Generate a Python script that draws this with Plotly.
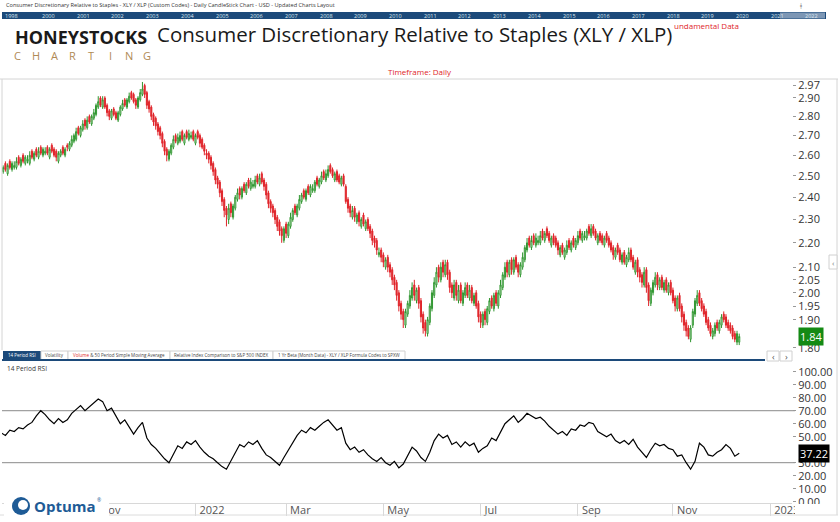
import numpy as np
import pandas as pd
import plotly.graph_objects as go
from plotly.subplots import make_subplots

## Daily XLY / XLP ratio bars (one per trading day from 1 Sep 2021)

bar_open = [
    2.51, 2.52, 2.56, 2.51, 2.57, 2.53, 2.54, 2.54, 2.59, 2.55,
    2.60, 2.56, 2.57, 2.56, 2.62, 2.58, 2.63, 2.59, 2.64, 2.60,
    2.61, 2.64, 2.59, 2.65, 2.63, 2.62, 2.57, 2.60, 2.64, 2.60,
    2.65, 2.63, 2.65, 2.67, 2.68, 2.74, 2.70, 2.73, 2.78, 2.74,
    2.80, 2.76, 2.79, 2.81, 2.85, 2.90, 2.85, 2.90, 2.86, 2.83,
    2.79, 2.84, 2.82, 2.78, 2.81, 2.84, 2.89, 2.85, 2.88, 2.93,
    2.92, 2.89, 2.85, 2.89, 2.92, 2.97, 2.93, 2.88, 2.85, 2.81,
    2.79, 2.76, 2.74, 2.71, 2.67, 2.63, 2.58, 2.61, 2.64, 2.70,
    2.66, 2.67, 2.72, 2.66, 2.72, 2.68, 2.69, 2.72, 2.66, 2.72,
    2.70, 2.68, 2.65, 2.61, 2.61, 2.59, 2.56, 2.53, 2.49, 2.47,
    2.43, 2.39, 2.35, 2.30, 2.37, 2.31, 2.35, 2.39, 2.44, 2.40,
    2.46, 2.42, 2.48, 2.44, 2.45, 2.45, 2.50, 2.46, 2.51, 2.48,
    2.46, 2.42, 2.38, 2.36, 2.34, 2.31, 2.29, 2.26, 2.21, 2.28,
    2.23, 2.27, 2.30, 2.36, 2.32, 2.35, 2.38, 2.43, 2.39, 2.45,
    2.41, 2.43, 2.43, 2.49, 2.45, 2.47, 2.52, 2.48, 2.50, 2.55,
    2.53, 2.48, 2.52, 2.50, 2.46, 2.50, 2.45, 2.39, 2.36, 2.31,
    2.35, 2.29, 2.33, 2.27, 2.32, 2.26, 2.30, 2.27, 2.25, 2.22,
    2.21, 2.15, 2.17, 2.15, 2.10, 2.14, 2.11, 2.09, 2.06, 2.04,
    2.00, 1.96, 1.93, 1.88, 1.92, 1.95, 1.98, 2.03, 1.97, 2.02,
    1.97, 1.92, 1.89, 1.85, 1.89, 1.94, 1.99, 2.03, 2.10, 2.05,
    2.12, 2.07, 2.12, 2.08, 2.03, 1.98, 2.04, 1.97, 2.03, 1.96,
    1.99, 2.03, 1.98, 2.02, 1.96, 2.00, 1.96, 1.92, 1.88, 1.93,
    1.89, 1.93, 1.98, 1.94, 2.00, 1.95, 1.99, 2.02, 2.06, 2.12,
    2.07, 2.13, 2.08, 2.14, 2.11, 2.07, 2.10, 2.13, 2.17, 2.22,
    2.18, 2.23, 2.19, 2.20, 2.20, 2.25, 2.21, 2.26, 2.24, 2.19,
    2.23, 2.22, 2.20, 2.15, 2.19, 2.14, 2.16, 2.21, 2.17, 2.22,
    2.18, 2.20, 2.25, 2.21, 2.22, 2.22, 2.27, 2.23, 2.27, 2.25,
    2.20, 2.24, 2.23, 2.19, 2.24, 2.22, 2.20, 2.18, 2.14, 2.19,
    2.17, 2.12, 2.16, 2.11, 2.13, 2.17, 2.14, 2.08, 2.13, 2.09,
    2.07, 2.03, 2.09, 2.03, 1.96, 2.00, 2.03, 2.07, 2.02, 2.06,
    2.01, 2.05, 2.00, 2.04, 2.01, 1.98, 1.94, 1.99, 1.95, 1.92,
    1.89, 1.87, 1.83, 1.88, 1.92, 1.96, 2.00, 1.97, 1.95, 1.93,
    1.90, 1.88, 1.84, 1.85, 1.89, 1.86, 1.88, 1.92, 1.91, 1.89,
    1.88, 1.87, 1.85, 1.82, 1.82,
]

bar_high = [
    2.54, 2.55, 2.57, 2.56, 2.58, 2.57, 2.57, 2.59, 2.60, 2.59,
    2.61, 2.60, 2.60, 2.62, 2.63, 2.62, 2.64, 2.64, 2.65, 2.64,
    2.64, 2.65, 2.64, 2.66, 2.64, 2.63, 2.62, 2.63, 2.65, 2.64,
    2.66, 2.67, 2.70, 2.71, 2.74, 2.75, 2.75, 2.78, 2.79, 2.80,
    2.81, 2.81, 2.84, 2.87, 2.91, 2.91, 2.91, 2.91, 2.87, 2.84,
    2.84, 2.85, 2.83, 2.83, 2.86, 2.89, 2.90, 2.90, 2.93, 2.94,
    2.93, 2.90, 2.91, 2.95, 2.99, 2.98, 2.94, 2.89, 2.86, 2.82,
    2.80, 2.77, 2.75, 2.72, 2.68, 2.64, 2.63, 2.66, 2.70, 2.71,
    2.71, 2.72, 2.73, 2.71, 2.73, 2.73, 2.72, 2.73, 2.71, 2.73,
    2.71, 2.69, 2.66, 2.63, 2.62, 2.60, 2.57, 2.54, 2.50, 2.48,
    2.44, 2.40, 2.36, 2.37, 2.38, 2.37, 2.41, 2.44, 2.45, 2.45,
    2.47, 2.47, 2.49, 2.49, 2.48, 2.50, 2.51, 2.51, 2.52, 2.49,
    2.47, 2.43, 2.39, 2.37, 2.35, 2.32, 2.30, 2.27, 2.27, 2.29,
    2.29, 2.33, 2.35, 2.37, 2.37, 2.41, 2.42, 2.44, 2.44, 2.46,
    2.46, 2.46, 2.48, 2.50, 2.49, 2.52, 2.53, 2.53, 2.55, 2.56,
    2.54, 2.52, 2.53, 2.51, 2.50, 2.51, 2.46, 2.40, 2.37, 2.36,
    2.36, 2.33, 2.34, 2.31, 2.33, 2.30, 2.31, 2.28, 2.26, 2.23,
    2.22, 2.18, 2.18, 2.16, 2.14, 2.15, 2.12, 2.10, 2.07, 2.05,
    2.01, 1.97, 1.94, 1.94, 1.97, 2.01, 2.04, 2.05, 2.02, 2.03,
    1.98, 1.93, 1.90, 1.91, 1.96, 2.01, 2.06, 2.10, 2.11, 2.12,
    2.13, 2.13, 2.13, 2.09, 2.04, 2.05, 2.05, 2.03, 2.04, 2.01,
    2.04, 2.04, 2.03, 2.03, 2.00, 2.01, 1.97, 1.93, 1.93, 1.94,
    1.95, 1.98, 1.99, 2.00, 2.01, 2.01, 2.05, 2.08, 2.12, 2.13,
    2.13, 2.14, 2.14, 2.15, 2.12, 2.12, 2.16, 2.19, 2.22, 2.23,
    2.23, 2.24, 2.24, 2.23, 2.25, 2.26, 2.25, 2.27, 2.25, 2.23,
    2.24, 2.23, 2.21, 2.19, 2.20, 2.18, 2.21, 2.22, 2.21, 2.23,
    2.22, 2.25, 2.26, 2.25, 2.25, 2.26, 2.28, 2.28, 2.28, 2.26,
    2.24, 2.25, 2.24, 2.23, 2.25, 2.23, 2.21, 2.19, 2.18, 2.20,
    2.18, 2.16, 2.17, 2.15, 2.18, 2.18, 2.15, 2.13, 2.14, 2.10,
    2.08, 2.10, 2.10, 2.04, 2.02, 2.05, 2.08, 2.08, 2.06, 2.07,
    2.05, 2.06, 2.04, 2.05, 2.02, 1.99, 1.99, 2.00, 1.96, 1.93,
    1.90, 1.88, 1.88, 1.94, 1.98, 2.01, 2.01, 1.98, 1.96, 1.94,
    1.91, 1.89, 1.87, 1.89, 1.90, 1.90, 1.92, 1.93, 1.92, 1.90,
    1.89, 1.88, 1.86, 1.86, 1.85,
]

bar_low = [
    2.50, 2.51, 2.52, 2.50, 2.53, 2.52, 2.53, 2.53, 2.55, 2.54,
    2.56, 2.55, 2.56, 2.55, 2.58, 2.57, 2.59, 2.58, 2.60, 2.59,
    2.60, 2.60, 2.58, 2.61, 2.59, 2.57, 2.56, 2.59, 2.60, 2.59,
    2.62, 2.62, 2.64, 2.66, 2.67, 2.70, 2.69, 2.72, 2.73, 2.73,
    2.76, 2.75, 2.78, 2.80, 2.84, 2.85, 2.84, 2.84, 2.80, 2.78,
    2.78, 2.80, 2.78, 2.77, 2.80, 2.83, 2.85, 2.84, 2.87, 2.89,
    2.87, 2.84, 2.84, 2.88, 2.91, 2.90, 2.84, 2.82, 2.78, 2.75,
    2.73, 2.70, 2.68, 2.64, 2.60, 2.57, 2.57, 2.60, 2.63, 2.66,
    2.65, 2.66, 2.67, 2.65, 2.68, 2.67, 2.68, 2.67, 2.65, 2.68,
    2.64, 2.63, 2.60, 2.58, 2.56, 2.53, 2.50, 2.46, 2.44, 2.40,
    2.36, 2.31, 2.27, 2.28, 2.31, 2.30, 2.34, 2.38, 2.39, 2.39,
    2.42, 2.41, 2.44, 2.43, 2.44, 2.44, 2.46, 2.45, 2.46, 2.43,
    2.39, 2.35, 2.33, 2.31, 2.28, 2.25, 2.23, 2.20, 2.20, 2.22,
    2.22, 2.26, 2.29, 2.32, 2.31, 2.34, 2.37, 2.39, 2.38, 2.41,
    2.40, 2.42, 2.42, 2.45, 2.44, 2.46, 2.48, 2.47, 2.49, 2.51,
    2.49, 2.47, 2.47, 2.46, 2.45, 2.45, 2.37, 2.33, 2.31, 2.30,
    2.29, 2.28, 2.27, 2.26, 2.27, 2.25, 2.25, 2.22, 2.19, 2.18,
    2.15, 2.14, 2.12, 2.10, 2.09, 2.08, 2.06, 2.03, 2.01, 1.97,
    1.93, 1.90, 1.87, 1.87, 1.91, 1.94, 1.97, 1.97, 1.96, 1.94,
    1.89, 1.85, 1.84, 1.84, 1.88, 1.93, 1.98, 2.02, 2.04, 2.04,
    2.06, 2.06, 2.05, 2.00, 1.98, 1.97, 1.97, 1.96, 1.96, 1.95,
    1.98, 1.98, 1.97, 1.96, 1.95, 1.94, 1.89, 1.87, 1.87, 1.88,
    1.88, 1.92, 1.94, 1.93, 1.95, 1.94, 1.98, 2.01, 2.05, 2.06,
    2.06, 2.07, 2.07, 2.09, 2.06, 2.06, 2.09, 2.12, 2.16, 2.18,
    2.17, 2.19, 2.18, 2.19, 2.19, 2.21, 2.20, 2.22, 2.20, 2.18,
    2.19, 2.18, 2.15, 2.14, 2.15, 2.13, 2.15, 2.17, 2.16, 2.18,
    2.17, 2.19, 2.21, 2.20, 2.21, 2.21, 2.23, 2.22, 2.23, 2.21,
    2.19, 2.20, 2.19, 2.18, 2.20, 2.18, 2.16, 2.13, 2.13, 2.15,
    2.12, 2.11, 2.11, 2.10, 2.12, 2.12, 2.09, 2.07, 2.06, 2.04,
    2.02, 2.02, 2.00, 1.95, 1.95, 1.99, 2.02, 2.01, 2.01, 2.01,
    2.00, 2.00, 1.99, 1.99, 1.96, 1.93, 1.93, 1.93, 1.89, 1.86,
    1.84, 1.83, 1.82, 1.87, 1.91, 1.95, 1.95, 1.93, 1.91, 1.88,
    1.86, 1.84, 1.83, 1.84, 1.86, 1.85, 1.87, 1.89, 1.87, 1.86,
    1.85, 1.83, 1.82, 1.81, 1.81,
]

bar_close = [
    2.53, 2.54, 2.53, 2.55, 2.54, 2.56, 2.55, 2.57, 2.56, 2.58,
    2.57, 2.59, 2.58, 2.60, 2.59, 2.61, 2.60, 2.62, 2.61, 2.63,
    2.62, 2.61, 2.63, 2.62, 2.60, 2.59, 2.61, 2.62, 2.61, 2.63,
    2.64, 2.66, 2.68, 2.70, 2.72, 2.71, 2.74, 2.76, 2.75, 2.78,
    2.77, 2.80, 2.82, 2.86, 2.88, 2.86, 2.89, 2.85, 2.82, 2.80,
    2.83, 2.81, 2.79, 2.82, 2.85, 2.87, 2.86, 2.89, 2.91, 2.90,
    2.88, 2.86, 2.90, 2.93, 2.95, 2.92, 2.86, 2.84, 2.80, 2.77,
    2.75, 2.72, 2.70, 2.66, 2.62, 2.60, 2.62, 2.65, 2.68, 2.67,
    2.69, 2.70, 2.68, 2.70, 2.69, 2.71, 2.70, 2.68, 2.70, 2.69,
    2.66, 2.64, 2.62, 2.60, 2.58, 2.55, 2.52, 2.48, 2.46, 2.42,
    2.38, 2.34, 2.32, 2.35, 2.33, 2.36, 2.40, 2.42, 2.41, 2.44,
    2.43, 2.46, 2.45, 2.47, 2.46, 2.48, 2.47, 2.49, 2.47, 2.45,
    2.41, 2.37, 2.35, 2.33, 2.30, 2.27, 2.25, 2.23, 2.26, 2.24,
    2.28, 2.31, 2.34, 2.33, 2.36, 2.39, 2.41, 2.40, 2.43, 2.42,
    2.45, 2.44, 2.47, 2.46, 2.48, 2.50, 2.49, 2.51, 2.53, 2.52,
    2.50, 2.51, 2.48, 2.47, 2.49, 2.46, 2.38, 2.35, 2.33, 2.34,
    2.31, 2.32, 2.29, 2.30, 2.28, 2.29, 2.26, 2.24, 2.21, 2.20,
    2.17, 2.16, 2.14, 2.12, 2.13, 2.10, 2.08, 2.05, 2.03, 1.99,
    1.95, 1.92, 1.90, 1.93, 1.96, 1.99, 2.02, 1.99, 2.01, 1.96,
    1.91, 1.87, 1.86, 1.90, 1.95, 2.00, 2.04, 2.08, 2.06, 2.10,
    2.08, 2.11, 2.07, 2.02, 2.00, 2.03, 1.99, 2.01, 1.97, 2.00,
    2.02, 1.99, 2.01, 1.97, 1.99, 1.95, 1.91, 1.89, 1.92, 1.90,
    1.94, 1.97, 1.95, 1.99, 1.96, 2.00, 2.03, 2.07, 2.10, 2.08,
    2.12, 2.09, 2.13, 2.10, 2.08, 2.11, 2.14, 2.18, 2.20, 2.19,
    2.21, 2.20, 2.22, 2.21, 2.23, 2.22, 2.24, 2.23, 2.21, 2.22,
    2.20, 2.19, 2.17, 2.18, 2.16, 2.17, 2.19, 2.18, 2.20, 2.19,
    2.21, 2.23, 2.22, 2.24, 2.23, 2.25, 2.24, 2.26, 2.24, 2.22,
    2.23, 2.21, 2.20, 2.22, 2.21, 2.19, 2.17, 2.15, 2.17, 2.16,
    2.13, 2.15, 2.12, 2.14, 2.16, 2.13, 2.10, 2.12, 2.08, 2.06,
    2.04, 2.08, 2.02, 1.97, 2.01, 2.04, 2.06, 2.03, 2.05, 2.02,
    2.04, 2.01, 2.03, 2.00, 1.97, 1.95, 1.98, 1.94, 1.91, 1.88,
    1.86, 1.84, 1.87, 1.93, 1.97, 1.99, 1.96, 1.94, 1.92, 1.89,
    1.87, 1.85, 1.86, 1.88, 1.87, 1.89, 1.91, 1.90, 1.88, 1.87,
    1.86, 1.84, 1.83, 1.85, 1.84,
]

## 14 period RSI, read every second bar

rsi_14 = [
    53, 51, 55, 54, 57, 56, 59, 61, 66, 70,
    67, 63, 60, 64, 61, 63, 68, 71, 74, 70,
    73, 76, 79, 77, 70, 72, 66, 60, 63, 58,
    52, 57, 61, 49, 44, 41, 37, 33, 30, 36,
    43, 41, 46, 44, 47, 42, 38, 35, 33, 30,
    27, 25, 31, 38, 44, 42, 46, 44, 47, 41,
    36, 34, 31, 28, 34, 40, 46, 51, 55, 53,
    57, 55, 58, 61, 63, 59, 55, 57, 45, 40,
    42, 38, 40, 36, 33, 31, 34, 30, 28, 31,
    26, 29, 36, 42, 39, 34, 31, 38, 47, 52,
    49, 51, 44, 46, 42, 46, 43, 45, 38, 41,
    43, 49, 47, 53, 60, 63, 66, 61, 64, 68,
    66, 64, 65, 62, 58, 55, 52, 54, 51, 56,
    55, 59, 58, 61, 60, 54, 52, 50, 52, 47,
    45, 47, 44, 48, 42, 38, 34, 40, 45, 43,
    44, 41, 40, 35, 36, 30, 25, 31, 45, 42,
    36, 35, 38, 40, 44, 41, 35, 37.22,
]

## Axis labels (1.85 and 40.00 sit under the last-value boxes in the original)

date_ticks = ["2021-09-01", "2021-11-01", "2022-01-03", "2022-03-01", "2022-05-02",
              "2022-07-01", "2022-09-01", "2022-11-01", "2023-01-02"]
date_labels = ["Sep", "Nov", "2022", "Mar", "May", "Jul", "Sep", "Nov", "2023"]

price_ticks = [1.80, 1.90, 1.95, 2.00, 2.05, 2.10, 2.20, 2.30, 2.40,
               2.50, 2.60, 2.70, 2.80, 2.90, 2.97]
rsi_ticks = [0, 10, 20, 30, 50, 60, 70, 80, 90, 100]

strip_years = ["1998", "2000", "2001", "2002", "2003", "2004", "2005", "2006", "2007",
               "2008", "2009", "2010", "2011", "2012", "2013", "2014", "2015", "2016",
               "2017", "2018", "2019", "2020", "2021", "2022"]

tab_names = ["14 Period RSI", "Volatility",
             "<span style='color:#e0242a'>Volume</span> & 50 Period Simple Moving Average",
             "Relative Index Comparison to S&P 500 INDEX",
             "1 Yr Beta (Month Data) - XLY / XLP Formula Codes to SPXW"]
tab_edges = [3, 41, 68, 170, 273, 405]

dates = pd.bdate_range("2021-09-01", periods=len(bar_close))
rsi_dates = dates[::2]

## Page geometry (pixels -> paper)

W, H = 840, 522
L, R, T, B = 2, 48, 79, 19
PW, PH = W - L - R, H - T - B


def px(x):
    return (x - L) / PW


def py(y):
    return (H - B - y) / PH


FONT = "Open Sans"
NAVY = "#1c4a7a"

fig = make_subplots(rows=2, cols=1, shared_xaxes=True, vertical_spacing=0.02)

fig.add_trace(go.Candlestick(
    x=dates, open=bar_open, high=bar_high, low=bar_low, close=bar_close,
    increasing=dict(line=dict(color="#2f962f", width=1), fillcolor="white"),
    decreasing=dict(line=dict(color="#e0242a", width=1), fillcolor="#e0242a"),
    whiskerwidth=0, showlegend=False, hoverinfo="skip"), row=1, col=1)

fig.add_trace(go.Scatter(
    x=rsi_dates, y=rsi_14, mode="lines", line=dict(color="black", width=1.2),
    showlegend=False, hoverinfo="skip"), row=2, col=1)

x_range = ["2021-09-01 11:00", "2023-01-13 21:00"]
breaks = [dict(bounds=["sat", "mon"])]

fig.update_xaxes(range=x_range, rangebreaks=breaks, showgrid=False, zeroline=False,
                 rangeslider_visible=False)
fig.update_xaxes(showticklabels=False, ticks="", showline=False, row=1, col=1)
fig.update_xaxes(tickvals=date_ticks, ticktext=date_labels, ticks="outside", ticklen=12,
                 tickcolor="#d8d8d8", tickwidth=1, ticklabelposition="outside right",
                 ticklabelstandoff=-3, ticklabelshift=3,
                 showline=True, linecolor="#d8d8d8", linewidth=1,
                 tickfont=dict(family=FONT, size=11, color="#555"), row=2, col=1)

fig.update_layout(
    width=W, height=H, margin=dict(l=L, r=R, t=T, b=B),
    paper_bgcolor="white", plot_bgcolor="white", showlegend=False,
    yaxis=dict(domain=[py(350), 1.0], type="log", side="right",
               range=[np.log10(1.7931), np.log10(3.007)],
               tickvals=price_ticks, ticktext=[f"{v:.2f}" for v in price_ticks],
               ticks="outside", ticklen=3, tickcolor="#999", showgrid=False, zeroline=False,
               tickfont=dict(family=FONT, size=11, color="#333")),
    yaxis2=dict(domain=[0, py(363)], side="right", range=[-1.0, 106.7],
                tickvals=rsi_ticks, ticktext=[f"{v:.2f}" for v in rsi_ticks],
                ticks="outside", ticklen=3, tickcolor="#999", showgrid=False, zeroline=False,
                tickfont=dict(family=FONT, size=11, color="#333")),
)

## Frame lines, header strip, tabs

shapes = []


def line(x0, y0, x1, y1, color="#d4d4d4", width=1, layer="above"):
    shapes.append(dict(type="line", xref="paper", yref="paper", x0=px(x0), y0=py(y0),
                       x1=px(x1), y1=py(y1), line=dict(color=color, width=width), layer=layer))


def rect(x0, y0, x1, y1, fill, color=None, layer="above"):
    shapes.append(dict(type="rect", xref="paper", yref="paper", x0=px(x0), y0=py(y0),
                       x1=px(x1), y1=py(y1), fillcolor=fill,
                       line=dict(color=color or fill, width=1 if color else 0), layer=layer))


rect(2, 12, 826, 19, NAVY)
rect(780, 12.5, 825, 18.5, "#7d97b5")
line(0, 79, 838, 79)
line(2, 79, 2, 350)
line(837, 79, 837, 515)
line(0, 515, 838, 515, color="#dcdcdc")

for i in range(len(tab_names)):
    if i == 0:
        rect(tab_edges[0], 351, tab_edges[1], 360, NAVY)
    else:
        rect(tab_edges[i], 351, tab_edges[i + 1], 360, "white", color="#d0d0d0")
line(2, 360, 765, 360, color=NAVY, width=2)
rect(767, 351, 779, 361, "white", color="#d0d0d0")
rect(780, 351, 792, 361, "white", color="#d0d0d0")
rect(829, 255, 837, 269, "white", color="#d0d0d0")

for lvl in [70, 30]:
    shapes.append(dict(type="line", xref="paper", yref="y2", x0=0, x1=px(795), y0=lvl, y1=lvl,
                       line=dict(color="#8a8a8a", width=1), layer="below"))

## cover the clipped end of the last date label and the logo area
rect(795, 504, 836, 514, "white")
rect(4, 494, 109, 517, "white")
shapes.append(dict(type="circle", xref="paper", yref="paper", x0=px(12), x1=px(30),
                   y0=py(515), y1=py(497), fillcolor="#1e5b96", line=dict(width=0), layer="above"))
shapes.append(dict(type="circle", xref="paper", yref="paper", x0=px(18), x1=px(28),
                   y0=py(510), y1=py(500), fillcolor="white", line=dict(width=0), layer="above"))

fig.update_layout(shapes=shapes)

## Texts

ann = []


def text(x, y, s, size, color="#333", anchor="left", bold=False, family=FONT, **kw):
    ann.append(dict(xref="paper", yref="paper", x=px(x), y=py(y), text=f"<b>{s}</b>" if bold else s,
                    showarrow=False, xanchor=anchor, yanchor="middle",
                    font=dict(family=family, size=size, color=color), **kw))


text(4, 5.5, "Consumer Discretionary Relative to Staples - XLY / XLP (Custom Codes) - Daily CandleStick "
     "Chart - USD - Updated Charts Layout", 5.6, color="#333")
text(801, 5.5, "ǂ", 8, color="#777", anchor="center")

year_x = [3] + [40 + 34.7 * k for k in range(len(strip_years) - 1)]
for yr, xx in zip(strip_years, year_x):
    text(xx, 15.5, yr, 5.5, color="#dfe7f0")

text(13, 37, "HONEYSTOCKS", 18, color="#1a1a1a", bold=True)
for k, ch in enumerate("CHARTING"):
    text(17 + 18.6 * k, 55, ch, 11, color="#b08a55", anchor="center")

text(155, 34, "Consumer Discretionary Relative to Staples (XLY / XLP)", 20.5, color="#1a1a1a")
text(672, 25, "undamental Data", 8, color="#e0242a")
text(420, 71, "Timeframe: Daily", 8, color="#e0242a", anchor="center")

for i, name in enumerate(tab_names):
    text((tab_edges[i] + tab_edges[i + 1]) / 2, 355.5, name, 4.5,
         color="white" if i == 0 else "#444", anchor="center")
text(773, 356, "‹", 9, color="#555", anchor="center")
text(786, 356, "›", 9, color="#555", anchor="center")
text(833, 262, "‹", 8, color="#777", anchor="center")
text(5, 368, "14 Period RSI", 6.5, color="#333")

text(32, 506, "Optuma", 15, color="#1e5b96", bold=True)
text(95, 500, "®", 5, color="#1e5b96")

ann.append(dict(xref="paper", yref="y", x=1, y=np.log10(bar_close[-1]), text=f"{bar_close[-1]:.2f}",
                showarrow=False, xanchor="left", xshift=6, bgcolor="#148a14", borderpad=1,
                font=dict(family=FONT, size=11, color="white")))
ann.append(dict(xref="paper", yref="y2", x=1, y=rsi_14[-1], text=f"{rsi_14[-1]:.2f}",
                showarrow=False, xanchor="left", xshift=6, bgcolor="black", borderpad=1,
                font=dict(family=FONT, size=11, color="white")))

fig.update_layout(annotations=ann)

fig.write_html("out.html", config={"displayModeBar": False},
               post_script="document.body.style.margin='0px';")
